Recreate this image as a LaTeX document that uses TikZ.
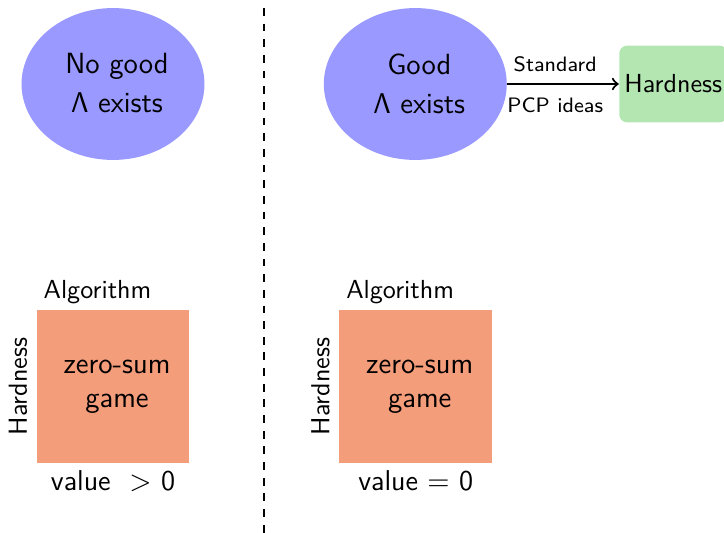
\documentclass[tikz,border=0pt]{standalone}
\usetikzlibrary{shapes.geometric,calc}
\renewcommand{\familydefault}{\sfdefault}
\definecolor{lensblue}{RGB}{153,153,255}
\definecolor{hardgreen}{RGB}{180,230,178}
\definecolor{gamesalmon}{RGB}{244,157,123}
\tikzset{
  lens/.style={ellipse, fill=lensblue, minimum width=70.1pt, minimum height=58.2pt,
    inner sep=0pt},
  lenstext/.style={align=center, inner sep=0pt, font=\fontsize{11.2}{15}\selectfont},
  gamebox/.style={rectangle, fill=gamesalmon, minimum size=58.4pt, inner sep=0pt},
  gametext/.style={align=center, inner sep=0pt, font=\fontsize{11.2}{13}\selectfont},
  resultbox/.style={rectangle, rounded corners=3pt, fill=hardgreen, minimum width=41.4pt,
    minimum height=29.4pt, inner sep=0pt, font=\fontsize{10}{12}\selectfont},
  sidelabel/.style={font=\fontsize{10}{12}\selectfont},
  valuelabel/.style={font=\fontsize{11}{13.6}\selectfont},
  arrowlabel/.style={font=\fontsize{8}{9.5}\selectfont},
  divider/.style={thick, dashed},
  implies/.style={thick, ->}
}
\begin{document}
\begin{tikzpicture}[x=0.3832pt, y=-0.3832pt]
\useasboundingbox (0,0) rectangle (724,533);
\clip (0,0) rectangle (724,533);

% dashed separator between the two cases
\coordinate (divtop) at (264,8);
\coordinate (divbot) at (264,545);
\draw[divider] (divtop) -- (divbot);

% top row: existence of a good Lambda
\node[lens] (noLens) at (113,84) {};
\node[lenstext] (noLensText) at ($(noLens.center)+(4,-1)$) {No good\\$\mathsf{\Lambda}$ exists};
\node[lens] (goodLens) at (415.3,84) {};
\node[lenstext] (goodLensText) at ($(goodLens.center)+(4,0)$) {Good\\$\mathsf{\Lambda}$ exists};
\node[resultbox] (hard) at (673.3,84) {Hardness};
\draw[implies] (goodLens) -- (hard)
  node[arrowlabel, pos=0.43, above=0.9pt] (stdLbl) {Standard}
  node[arrowlabel, pos=0.43, below=1.6pt] (pcpLbl) {PCP ideas};

% bottom row: the zero-sum games
\node[gamebox] (gameL) at (113,386.5) {};
\node[gametext] (gameLText) at ($(gameL.center)+(4,0)$) {zero-sum\\game};
\node[gamebox] (gameR) at (415.7,386.5) {};
\node[gametext] (gameRText) at ($(gameR.center)+(4,0)$) {zero-sum\\game};

\node[sidelabel, anchor=base] (algoL) at ($(gameL.north)+(-15.5,-11.7)$) {Algorithm};
\node[sidelabel, anchor=base] (algoR) at ($(gameR.north)+(-15.5,-11.7)$) {Algorithm};
\node[sidelabel, rotate=90, anchor=south] (hardL) at (gameL.west) {Hardness};
\node[sidelabel, rotate=90, anchor=south] (hardR) at (gameR.west) {Hardness};

\node[valuelabel, anchor=base] (valL) at ($(gameL.south)+(0,27.3)$) {value\ \ $>$ 0};
\node[valuelabel, anchor=base] (valR) at ($(gameR.south)+(0,27.3)$) {value $=$ 0};
\end{tikzpicture}
\end{document}
